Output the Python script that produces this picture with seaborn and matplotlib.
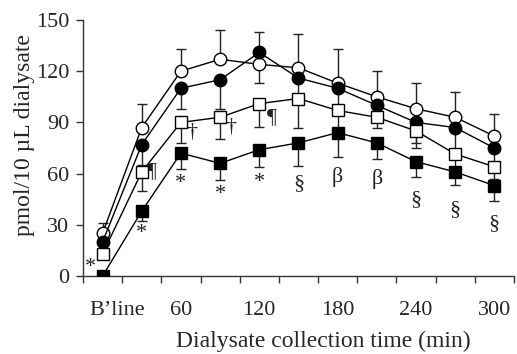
import numpy as np
import pandas as pd
import matplotlib
matplotlib.use("Agg")
import matplotlib.pyplot as plt
import matplotlib.transforms as mtransforms
import seaborn as sns

# ---------- Data ----------
categories = ["B’line", "30", "60", "90", "120", "150", "180", "210", "240", "270", "300"]
tick_labels = ["B’line", "60", "120", "180", "240", "300"]

open_circle = [25, 87, 120, 127, 124, 122, 113, 105, 98, 93, 82]
filled_circle = [20, 77, 110, 115, 131, 116, 110, 100, 90, 87, 75]
open_square = [13, 61, 90, 93, 101, 104, 97, 93, 85, 71.5, 64]
filled_square = [0, 38, 72, 66, 74, 78, 84, 78, 67, 61, 53]

# one-sided SEM bars: open circles up, the rest down
err_open_circle = [6, 14, 13, 17, 19, 20, 20, 15, 15, 15, 13]
err_filled_circle = [5, 12, 12, 17, 18, 15, 12, 10, 12, 14, 10]
err_open_square = [3, 11, 12, 13, 13.5, 17, 10, 6, 10, 8, 7]
err_filled_square = [0, 6, 9.5, 10, 10, 13.5, 14, 9.4, 9, 7.6, 9]

# significance marks (x index, y value, symbol)
sig_x = [-0.3, 1, 2, 3, 4, 5, 6, 7, 8, 9, 10, 1.27, 2.29, 3.28, 4.33]
sig_y = [5, 25, 54, 48, 55, 54, 58, 57, 45, 39, 31, 61, 84, 87, 93]
sig_txt = ["*", "*", "*", "*", "*", "§", "β", "β", "§", "§", "§", "¶", "†", "†", "¶"]

# ---------- Style ----------
sns.set_theme(style="ticks")
plt.rcParams["font.family"] = ["Liberation Serif", "DejaVu Serif"]

x = np.arange(len(categories))
series = {
    "oc": open_circle,
    "fc": filled_circle,
    "os": open_square,
    "fs": filled_square,
}
df = pd.concat(
    [pd.DataFrame({"x": x, "y": v, "group": k}) for k, v in series.items()],
    ignore_index=True,
)

fig = plt.figure(figsize=(5.17, 3.54), dpi=100)
ax = fig.add_axes([0.1605, 0.2203, 0.8335, 0.7232])

# error bars (drawn under the markers)
err_cfg = [
    (open_circle, err_open_circle, "up"),
    (filled_circle, err_filled_circle, "down"),
    (open_square, err_open_square, "down"),
    (filled_square, err_filled_square, "down"),
]
for vals, errs, direction in err_cfg:
    errs = np.array(errs)
    zeros = np.zeros_like(errs)
    yerr = [zeros, errs] if direction == "up" else [errs, zeros]
    ax.errorbar(x, vals, yerr=yerr, fmt="none", ecolor="#222222",
                elinewidth=1, capsize=3.5, capthick=1, zorder=2)

sns.lineplot(data=df, x="x", y="y", hue="group", style="group",
             palette={"oc": "black", "fc": "black", "os": "black", "fs": "black"},
             dashes=False, markers={"oc": "o", "fc": "o", "os": "s", "fs": "s"},
             linewidth=1, legend=False, ax=ax, zorder=3)

# marker faces: open ones white
face = {"oc": "white", "fc": "black", "os": "white", "fs": "black"}
sizes = {"oc": 9, "fc": 9, "os": 8.5, "fs": 8.5}
for line, key in zip(ax.get_lines()[-4:], series.keys()):
    line.set_markerfacecolor(face[key])
    line.set_markeredgecolor("black")
    line.set_markeredgewidth(1)
    line.set_markersize(sizes[key])
    line.set_zorder(4)

for sx, sy, st in zip(sig_x, sig_y, sig_txt):
    ax.text(sx, sy, st, ha="center", va="center", fontsize=16, color="#222222")

# ---------- Axes ----------
ax.set_xlim(-0.5, 10.5)
ax.set_ylim(0, 150)
ax.set_yticks(np.arange(0, 151, 30))
ax.set_xticks(x[::2])
ax.set_xticklabels(tick_labels)
ax.set_xticks(np.arange(-0.5, 10.6, 1), minor=True)
ax.tick_params(axis="x", which="major", length=0, labelsize=16, pad=18)
ax.tick_params(axis="x", which="minor", length=5, width=1, direction="out", color="#333333")
ax.tick_params(axis="y", length=5, width=1, labelsize=16, color="#333333", pad=5)
sns.despine(ax=ax)
for sp in ["left", "bottom"]:
    ax.spines[sp].set_linewidth(1)
    ax.spines[sp].set_color("#333333")

# nudge the B'line label right, as in the reference
offset = mtransforms.ScaledTranslation(0.15, 0, fig.dpi_scale_trans)
lbl = ax.get_xticklabels()[0]
lbl.set_transform(lbl.get_transform() + offset)

ax.set_xlabel("Dialysate collection time (min)", fontsize=17)
ax.set_ylabel("pmol/10 µL dialysate", fontsize=17)
ax.xaxis.set_label_coords(0.557, -0.254)
ax.yaxis.set_label_coords(-0.135, 0.55)
ax.xaxis.label.set_va("center")
ax.yaxis.label.set_va("center")

fig.savefig("out.png", dpi=100)
